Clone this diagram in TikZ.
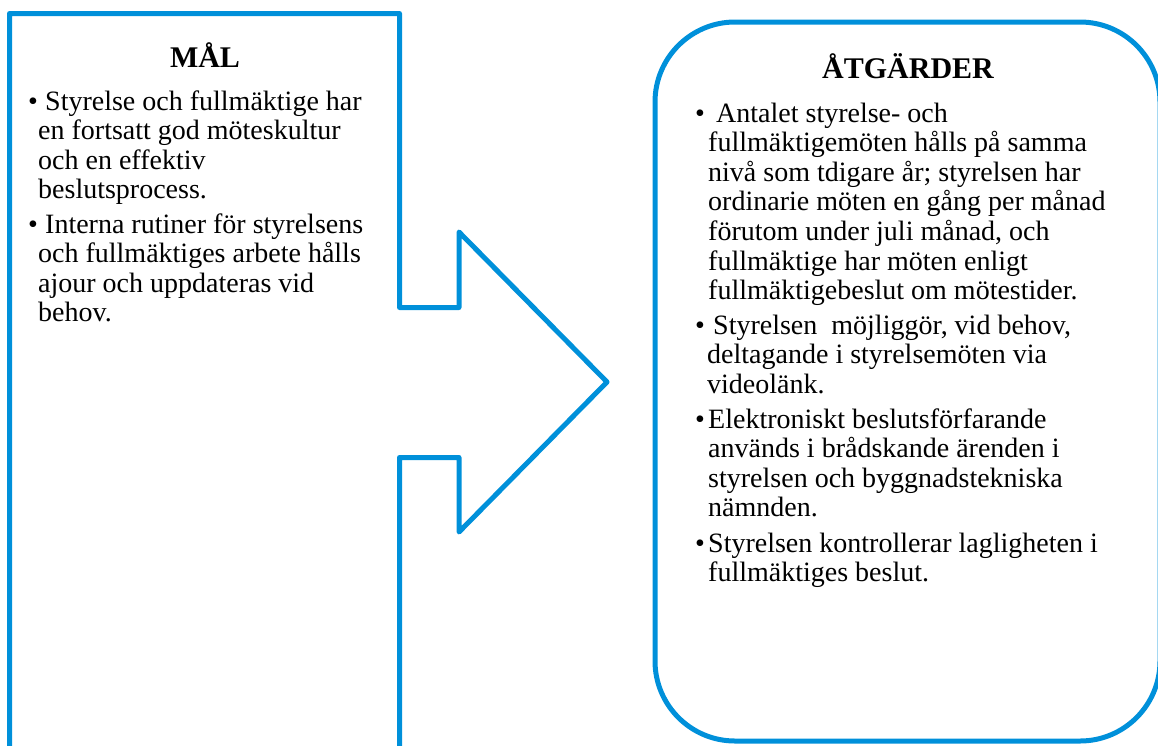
\documentclass[tikz,border=0pt]{standalone}
\usepackage{fontspec}
\setmainfont{Liberation Serif}
\definecolor{boxblue}{RGB}{0,144,218}
\newcommand\lbul{\makebox[10pt][l]{•}}
\newcommand\rbul{\makebox[13pt][l]{•}}
\begin{document}
\begin{tikzpicture}[x=1pt,y=-1pt,
  outline/.style={draw=boxblue,line width=5pt,line join=round},
  body/.style={inner sep=0pt,anchor=base west,align=left,font={\fontsize{28}{29.6}\selectfont}},
  head/.style={inner sep=0pt,anchor=base,font={\fontsize{30}{34}\selectfont\bfseries}}]
\useasboundingbox (0,0) rectangle (1158,745);
\clip (0,0) rectangle (1158,745);
% left arrow-shaped box
\draw[outline] (9.5,760) -- (9.5,13.5) -- (399.5,13.5) -- (399.5,307.5) -- (459,307.5)
  -- (459,232) -- (607,382) -- (459,532) -- (459,457.5) -- (399.5,457.5) -- (399.5,760);
% right rounded box
\draw[outline,rounded corners=80pt] (655,22) rectangle (1160,741);
% left texts (anchor: baseline of the last line)
\node[head] (mal) at (205,67) {MÅL};
\node[body] (m1) at (28,198.8) {\lbul\hspace*{7pt}Styrelse och fullmäktige har\\
\hspace*{10pt}en fortsatt god möteskultur\\
\hspace*{10pt}och en effektiv\\
\hspace*{10pt}beslutsprocess.};
\node[body] (m2) at (28,321.8) {\lbul\hspace*{7pt}Interna rutiner för styrelsens\\
\hspace*{10pt}och fullmäktiges arbete hålls\\
\hspace*{10pt}ajour och uppdateras vid\\
\hspace*{10pt}behov.};
% right texts
\node[head] (atg) at (908,78) {ÅTGÄRDER};
\node[body] (a1) at (695,299.6) {\rbul\hspace*{8pt}Antalet styrelse- och\\
\hspace*{13pt}fullmäktigemöten hålls på samma\\
\hspace*{13pt}nivå som tdigare år; styrelsen har\\
\hspace*{13pt}ordinarie möten en gång per månad\\
\hspace*{13pt}förutom under juli månad, och\\
\hspace*{13pt}fullmäktige har möten enligt\\
\hspace*{13pt}fullmäktigebeslut om mötestider.};
\node[body] (a2) at (695,393.2) {\rbul\hspace*{5pt}Styrelsen\hspace*{14pt}möjliggör, vid behov,\\
\hspace*{12pt}deltagande i styrelsemöten via\\
\hspace*{12pt}videolänk.};
\node[body] (a3) at (695,516.8) {\rbul Elektroniskt beslutsförfarande\\
\hspace*{13pt}används i brådskande ärenden i\\
\hspace*{13pt}styrelsen och byggnadstekniska\\
\hspace*{13pt}nämnden.};
\node[body] (a4) at (695,581.6) {\rbul Styrelsen kontrollerar lagligheten i\\
\hspace*{13pt}fullmäktiges beslut.};
\end{tikzpicture}
\end{document}
